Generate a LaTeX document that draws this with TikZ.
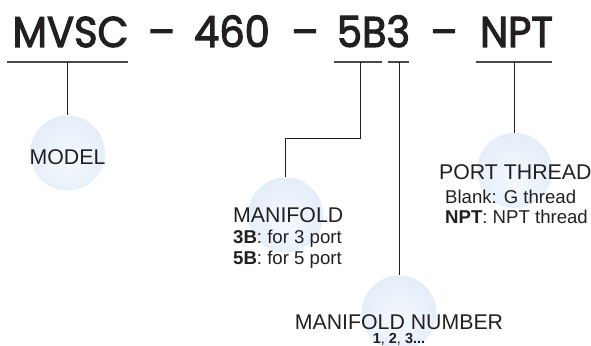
\documentclass[tikz,border=0pt]{standalone}
\usepackage{fontspec}
\setmainfont{Liberation Sans}
\newfontfamily\codefont[FakeBold=2.5, FakeStretch=0.93]{Poppins}
\usepackage{tikz}
\definecolor{ink}{HTML}{231F20}
\definecolor{rule}{HTML}{4A4848}
\pgfdeclareradialshading{ball}{\pgfpoint{0bp}{-6bp}}{%
  rgb(0bp)=(0.96,0.975,0.995); rgb(12bp)=(0.93,0.955,0.985);
  rgb(44bp)=(0.85,0.905,0.965); rgb(50bp)=(0.84,0.90,0.96)}

\begin{document}
\begin{tikzpicture}[x=1pt, y=-1pt,
  code/.style = {font=\codefont\fontsize{43}{43}\selectfont, text=ink, anchor=base, inner sep=0pt},
  title/.style = {font=\fontsize{21.3}{21.3}\selectfont, text=ink, inner sep=0pt},
  note/.style = {font=\fontsize{18.6}{18.6}\selectfont, text=ink, inner sep=0pt, anchor=base west},
  ball/.style = {circle, shading=ball, minimum size=75pt, inner sep=0pt},
  under/.style = {draw=rule, line width=1.6pt},
  stem/.style = {draw=ink, line width=0.9pt}]
\useasboundingbox (0,0) rectangle (591,345);

\node[ball] (modelball) at (67.5,153) {};
\node[ball] (maniball) at (285.5,215) {};
\node[ball] (numball) at (399,313) {};
\node[ball] (portball) at (514.5,170.5) {};

\node[code] (mvsc) at (70.5,47) {MVSC};
\node[code] (dasha) at (161.5,47) {–};
\node[code] (size) at (232,47) {460};
\node[code] (dashb) at (305,47) {–};
\node[code] (mani) at (373.5,47) {5B3};
\node[code] (dashc) at (444,47) {–};
\node[code] (npt) at (516.5,47) {NPT};

\coordinate (mvscl) at (7,62);   \coordinate (mvscr) at (128,62);
\coordinate (manil) at (334,62); \coordinate (manir) at (382,62);
\coordinate (numl) at (388,62);  \coordinate (numr) at (409,62);
\coordinate (nptl) at (476,62);  \coordinate (nptr) at (552,62);
\draw[under] (mvscl) -- (mvscr);
\draw[under] (manil) -- (manir);
\draw[under] (numl) -- (numr);
\draw[under] (nptl) -- (nptr);

\draw[stem] (modelball.north |- mvscl) -- (modelball.north);
\draw[stem] (360,62) -- (360,138) -| (maniball.north);
\draw[stem] (numball.north |- numl) -- (numball.north);
\draw[stem] (portball.north |- nptl) -- (portball.north);

\node[title, anchor=base] (model) at (67.5,164) {MODEL};

\node[title, anchor=base west] (manititle) at (233,222) {MANIFOLD};
\node[note] (manithree) at (233,243) {\textbf{3B}: for 3 port};
\node[note] (manifive) at (233,264) {\textbf{5B}: for 5 port};

\node[title, anchor=base, text depth=0pt] (numtitle) at (399,329) {MANIFOLD NUMBER};
\node[note, anchor=base, text depth=0pt, font=\fontsize{14.5}{14.5}\selectfont] (numlist) at (399,343) {\textbf{1}, \textbf{2}, \textbf{3...}};

\node[title, anchor=base west] (porttitle) at (439,179) {PORT THREAD};
\node[note] (portblank) at (445,203) {Blank: G thread};
\node[note] (portnpt) at (445,223) {\textbf{NPT}: NPT thread};
\end{tikzpicture}
\end{document}
